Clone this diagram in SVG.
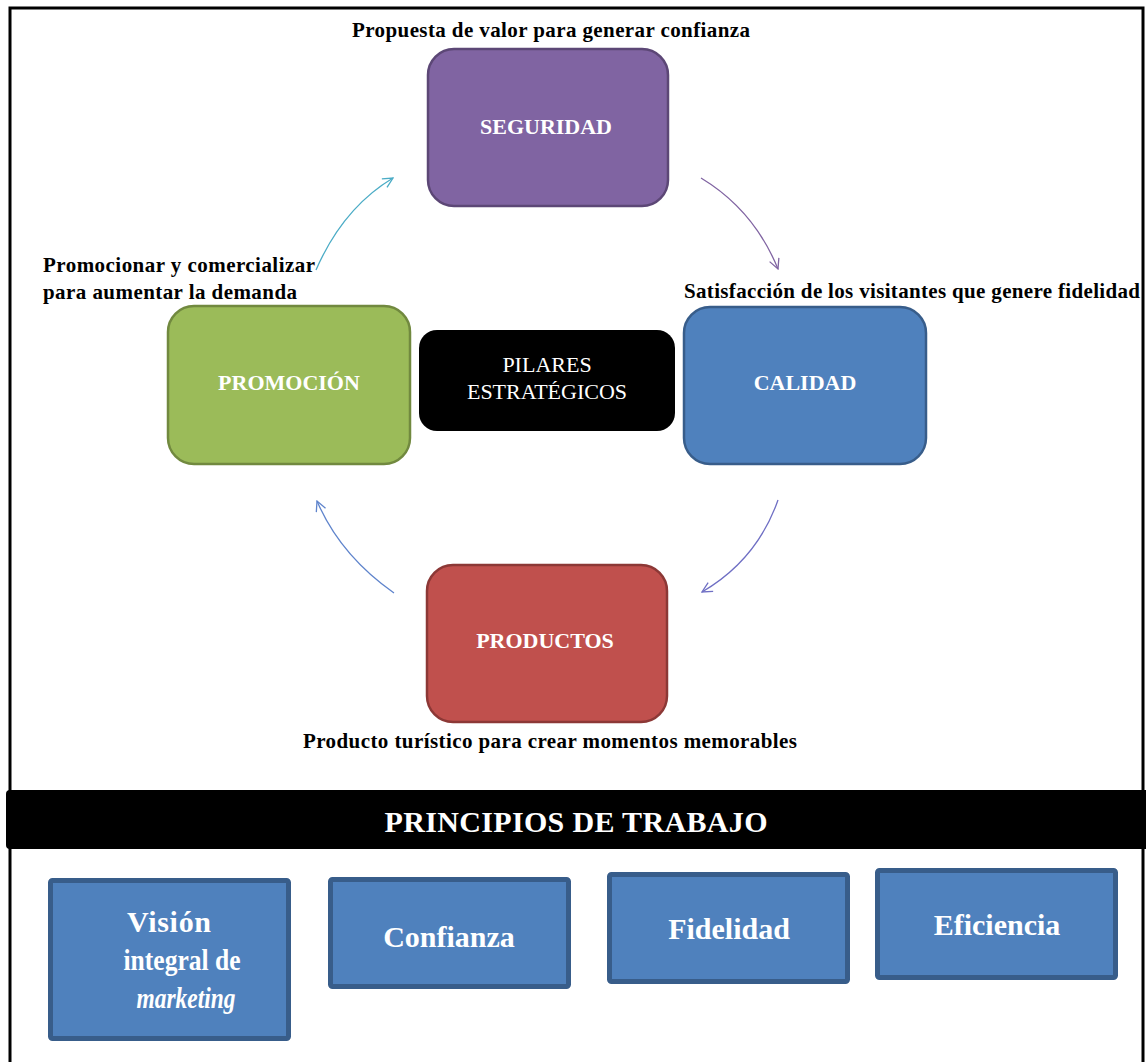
<svg xmlns="http://www.w3.org/2000/svg" width="1146" height="1062" viewBox="0 0 1146 1062">
<style>
.lbl{font-family:"Liberation Serif","Times New Roman",serif;font-weight:bold;font-size:21px;fill:#000}
.ntx{font-family:"Liberation Serif","Times New Roman",serif;font-weight:bold;font-size:22px;fill:#fff;text-anchor:middle}
.ctx{font-family:"Liberation Serif","Times New Roman",serif;font-size:22px;fill:#fff;text-anchor:middle}
.btx{font-family:"Liberation Serif","Times New Roman",serif;font-weight:bold;font-size:30px;fill:#fff;text-anchor:middle}
.pbox{fill:#4F81BD;stroke:#385D8A;stroke-width:5}
.arr{fill:none;stroke-width:1.3}
</style>
<defs>
<marker id="mA" viewBox="0 0 12 12" refX="11" refY="6" markerWidth="12" markerHeight="12" markerUnits="userSpaceOnUse" orient="auto"><path d="M1,1 L11,6 L1,11" fill="none" stroke="#4BACC6" stroke-width="1.3"/></marker>
<marker id="mB" viewBox="0 0 12 12" refX="11" refY="6" markerWidth="12" markerHeight="12" markerUnits="userSpaceOnUse" orient="auto"><path d="M1,1 L11,6 L1,11" fill="none" stroke="#8064A2" stroke-width="1.3"/></marker>
<marker id="mC" viewBox="0 0 12 12" refX="11" refY="6" markerWidth="12" markerHeight="12" markerUnits="userSpaceOnUse" orient="auto"><path d="M1,1 L11,6 L1,11" fill="none" stroke="#6F6FC4" stroke-width="1.3"/></marker>
<marker id="mD" viewBox="0 0 12 12" refX="11" refY="6" markerWidth="12" markerHeight="12" markerUnits="userSpaceOnUse" orient="auto"><path d="M1,1 L11,6 L1,11" fill="none" stroke="#5F84CC" stroke-width="1.3"/></marker>
</defs>
<rect x="0" y="0" width="1146" height="1062" fill="#fff"/>
<rect x="10" y="8" width="1133" height="1070" fill="none" stroke="#000" stroke-width="3"/>

<g id="connectors">
<path class="arr" d="M316,270 Q343,208 393,178" stroke="#4BACC6" marker-end="url(#mA)"/>
<path class="arr" d="M701,178 Q754,210 778,269" stroke="#8064A2" marker-end="url(#mB)"/>
<path class="arr" d="M778,500 Q757,560 702,592" stroke="#6F6FC4" marker-end="url(#mC)"/>
<path class="arr" d="M394,593 Q340,555 317,501" stroke="#5F84CC" marker-end="url(#mD)"/>
</g>

<g id="label-seguridad"><text class="lbl" x="352" y="37" textLength="398">Propuesta de valor para generar confianza</text></g>
<g id="label-promocion"><text class="lbl" x="43" y="272" textLength="272">Promocionar y comercializar</text><text class="lbl" x="43" y="299" textLength="254">para aumentar la demanda</text></g>
<g id="label-calidad"><text class="lbl" x="684" y="298" textLength="456">Satisfacción de los visitantes que genere fidelidad</text></g>
<g id="label-productos"><text class="lbl" x="303" y="748" textLength="494">Producto turístico para crear momentos memorables</text></g>

<g id="node-seguridad"><rect x="428" y="49" width="240" height="157" rx="26" fill="#8064A2" stroke="#5C4776" stroke-width="2.5"/><text class="ntx" x="546" y="134">SEGURIDAD</text></g>
<g id="node-promocion"><rect x="168" y="306" width="242" height="158" rx="26" fill="#9BBB59" stroke="#71893F" stroke-width="2.5"/><text class="ntx" x="289" y="390">PROMOCIÓN</text></g>
<g id="node-calidad"><rect x="684" y="307" width="242" height="157" rx="26" fill="#4F81BD" stroke="#385D8A" stroke-width="2.5"/><text class="ntx" x="805" y="390">CALIDAD</text></g>
<g id="node-productos"><rect x="427" y="565" width="240" height="157" rx="26" fill="#C0504D" stroke="#8C3836" stroke-width="2.5"/><text class="ntx" x="545" y="648">PRODUCTOS</text></g>
<g id="node-pilares"><rect x="419" y="330" width="256" height="101" rx="18" fill="#000"/><text class="ctx" x="547" y="372">PILARES</text><text class="ctx" x="547" y="399">ESTRATÉGICOS</text></g>

<g id="bar-principios"><rect x="6" y="790" width="1150" height="59" rx="4" fill="#000"/><text class="btx" x="576" y="832" font-size="28" textLength="383">PRINCIPIOS DE TRABAJO</text></g>

<g id="box-vision"><rect class="pbox" x="50.5" y="880.5" width="238" height="158" rx="2"/><text class="btx" x="169" y="932" textLength="84">Visión</text><text class="btx" x="182" y="970" textLength="117" lengthAdjust="spacingAndGlyphs">integral de</text><text class="btx" x="186" y="1008" font-style="italic" font-weight="normal" textLength="99" lengthAdjust="spacingAndGlyphs">marketing</text></g>
<g id="box-confianza"><rect class="pbox" x="330.5" y="879.5" width="238" height="107" rx="2"/><text class="btx" x="449" y="947">Confianza</text></g>
<g id="box-fidelidad"><rect class="pbox" x="609.5" y="874.5" width="238" height="107" rx="2"/><text class="btx" x="729" y="939">Fidelidad</text></g>
<g id="box-eficiencia"><rect class="pbox" x="877.5" y="870.5" width="238" height="107" rx="2"/><text class="btx" x="997" y="935">Eficiencia</text></g>
</svg>
